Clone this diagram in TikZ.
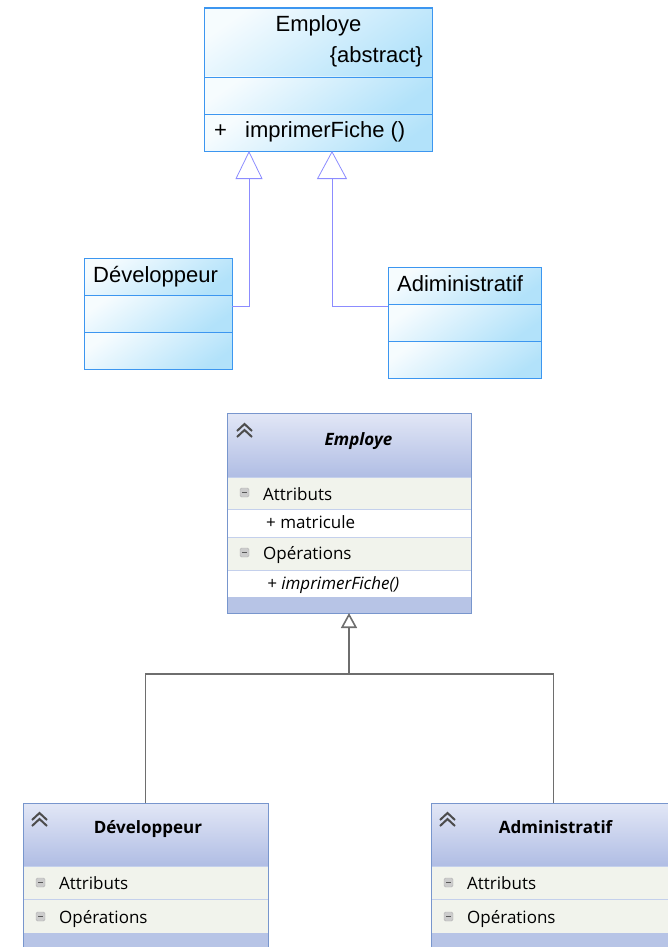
\documentclass[tikz,border=0pt]{standalone}
\usepackage{fontspec}
\setmainfont{Liberation Sans}
\newfontfamily\vsfont{Open Sans}
\usetikzlibrary{arrows.meta,positioning}

% couleurs
\definecolor{clsedge}{RGB}{60,150,240}
\definecolor{clsfill}{RGB}{178,226,250}
\definecolor{genline}{RGB}{140,140,255}
\definecolor{vsedge}{RGB}{120,150,205}
\definecolor{vssep}{RGB}{196,208,236}
\definecolor{vsheadtop}{RGB}{226,231,246}
\definecolor{vsheadbot}{RGB}{176,189,228}
\definecolor{vsrow}{RGB}{241,243,236}
\definecolor{vsband}{RGB}{183,196,230}
\definecolor{vsline}{RGB}{110,110,110}

\begin{document}
\begin{tikzpicture}[x=1pt,y=-1pt,
    box/.style={anchor=north west, inner sep=0pt, outer sep=0pt},
    compart/.style={box, draw=clsedge, line width=0.8pt,
        top color=clsfill!12, bottom color=clsfill, shading angle=35},
    frame/.style={box, draw=#1, line width=1pt},
    txt/.style={inner sep=0pt, font=\fontsize{22}{26}\selectfont},
    vstxt/.style={inner sep=0pt, font=\vsfont\fontsize{17}{20}\selectfont},
    vshead/.style={box, top color=vsheadtop, bottom color=vsheadbot},
    vsrowa/.style={box, fill=vsrow, draw=vssep, line width=0.6pt},
    vsrowb/.style={box, fill=white, draw=vssep, line width=0.6pt},
    vsbandbox/.style={box, fill=vsband},
    gen1/.style={draw=genline, line width=0.8pt},
    gen2/.style={draw=vsline, line width=1.6pt},
    chev/.pic={
        \draw[gray!60!black, line width=2pt, line join=miter]
            (0,7) -- (7.5,0) -- (15,7) (0,13) -- (7.5,6) -- (15,13);
    },
    minusbox/.pic={
        \draw[gray!60, fill=gray!40, rounded corners=1.5pt] (0,0) rectangle (9,9);
        \draw[gray!70!black, line width=1.3pt] (2,4.5) -- (7,4.5);
    }]
    \useasboundingbox (0,0) rectangle (668,947);
    \clip (0,0) rectangle (668,947);

    % ===== premier diagramme =====
    % Employe
    \node[compart, minimum width=228pt, minimum height=69pt] (emp1h) at (204,8) {};
    \node[compart, minimum width=228pt, minimum height=37pt] (emp1a) at (204,77) {};
    \node[compart, minimum width=228pt, minimum height=37pt] (emp1o) at (204,114) {};
    \node[frame=clsedge, minimum width=228pt, minimum height=143pt] (emp1) at (204,8) {};
    \node[txt, anchor=base] (emp1n) at (318.5,32) {Employe};
    \node[txt, anchor=base east] (emp1s) at (423,63) {\{abstract\}};
    \node[txt, anchor=base west] (emp1v) at (214,138) {+};
    \node[txt, anchor=base west] (emp1m) at (245,138) {imprimerFiche ()};

    % Developpeur
    \foreach \y/\nm in {258/dev1h, 295/dev1a, 332/dev1o}
        \node[compart, minimum width=148pt, minimum height=37pt] (\nm) at (84,\y) {};
    \node[frame=clsedge, minimum width=148pt, minimum height=111pt] (dev1) at (84,258) {};
    \node[txt, anchor=base west] (dev1n) at (93,282) {Développeur};

    % Adiministratif
    \foreach \y/\nm in {267/adm1h, 304/adm1a, 341/adm1o}
        \node[compart, minimum width=153pt, minimum height=37pt] (\nm) at (388,\y) {};
    \node[frame=clsedge, minimum width=153pt, minimum height=111pt] (adm1) at (388,267) {};
    \node[txt, anchor=base west] (adm1n) at (397,291) {Adiministratif};

    % heritage
    \coordinate (coude1) at (249,306);
    \coordinate (coude2) at (332,306);
    \draw[gen1, -{Triangle[open, length=28pt, width=27pt]}]
        (dev1.east |- coude1) -- (coude1) -- (emp1.south -| coude1);
    \draw[gen1, -{Triangle[open, length=28pt, width=30pt]}]
        (adm1.west |- coude2) -- (coude2) -- (emp1.south -| coude2);

    % ===== second diagramme =====
    % Employe
    \node[vshead, minimum width=244pt, minimum height=64pt] (emp2h) at (227,413) {};
    \node[vsrowa, minimum width=244pt, minimum height=32pt] (emp2a) at (227,477) {};
    \node[vsrowb, minimum width=244pt, minimum height=28pt] (emp2m) at (227,509) {};
    \node[vsrowa, minimum width=244pt, minimum height=33pt] (emp2o) at (227,537) {};
    \node[vsrowb, minimum width=244pt, minimum height=27pt] (emp2f) at (227,570) {};
    \node[vsbandbox, minimum width=244pt, minimum height=16pt] (emp2b) at (227,597) {};
    \node[frame=vsedge, minimum width=244pt, minimum height=200pt] (emp2) at (227,413) {};
    \pic at (237,424) {chev};
    \pic at (240,488) {minusbox};
    \pic at (240,548) {minusbox};
    \node[vstxt, anchor=base] (emp2n) at (358.5,445) {\textbf{\textit{Employe}}};
    \node[vstxt, anchor=base west] (emp2at) at (263,500) {Attributs};
    \node[vstxt, anchor=base west] (emp2mt) at (266,528) {+ matricule};
    \node[vstxt, anchor=base west] (emp2ot) at (263,559) {Opérations};
    \node[vstxt, anchor=base west] (emp2ft) at (267,589) {\textit{+ imprimerFiche()}};

    % Developpeur et Administratif
    \foreach \x/\nm/\titre in {23/dev2/Développeur, 431/adm2/Administratif}
    {
        \node[vshead, minimum width=245pt, minimum height=63pt] (\nm h) at (\x,803) {};
        \node[vsrowa, minimum width=245pt, minimum height=33pt] (\nm a) at (\x,866) {};
        \node[vsrowa, minimum width=245pt, minimum height=34pt] (\nm o) at (\x,899) {};
        \node[vsbandbox, minimum width=245pt, minimum height=30pt] (\nm b) at (\x,933) {};
        \node[frame=vsedge, minimum width=245pt, minimum height=160pt] (\nm) at (\x,803) {};
        \pic at (\x+9,813) {chev};
        \pic at (\x+13,878) {minusbox};
        \pic at (\x+13,912) {minusbox};
        \node[vstxt, anchor=base] (\nm n) at (\x+125,833) {\textbf{\titre}};
        \node[vstxt, anchor=base west] (\nm at) at (\x+36,889) {Attributs};
        \node[vstxt, anchor=base west] (\nm ot) at (\x+36,923) {Opérations};
    }

    % heritage
    \coordinate (jonction) at (349,674);
    \draw[gen2] (dev2.north) |- (jonction) -| (adm2.north);
    \draw[gen2, -{Triangle[open, length=15pt, width=16pt]}] (jonction) -- (emp2.south);
\end{tikzpicture}
\end{document}
